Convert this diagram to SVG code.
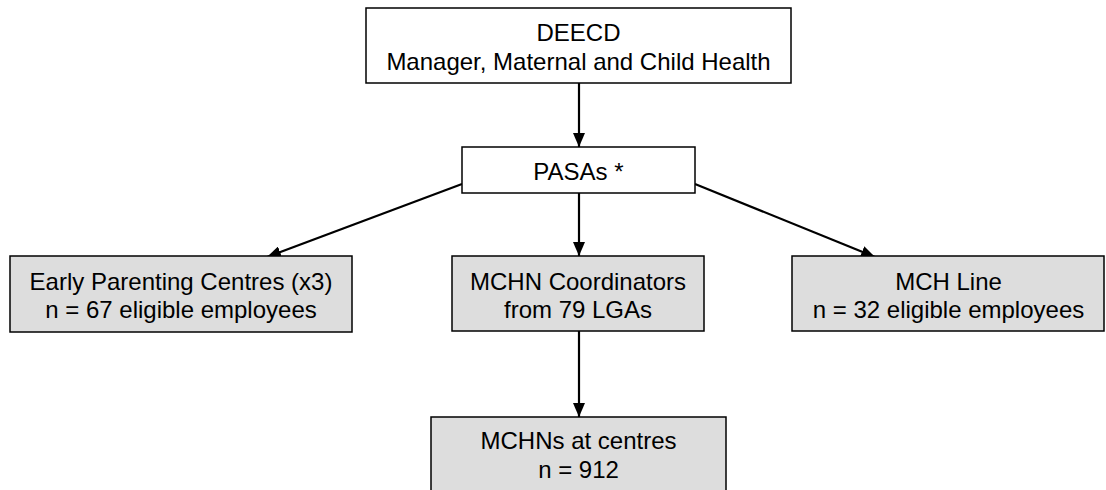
<svg xmlns="http://www.w3.org/2000/svg" width="1106" height="490" viewBox="0 0 1106 490">
<style>
.box{stroke:#000;stroke-width:1.5}
.w{fill:#fff}
.g{fill:#dddddd}
.t{font-family:"Liberation Sans",Arial,sans-serif;font-size:24px;fill:#000;text-anchor:middle}
.c{stroke:#000;stroke-width:2.2;fill:none;marker-end:url(#ah)}
</style>
<defs>
<marker id="ah" viewBox="0 0 14 12" refX="14" refY="6" markerWidth="14" markerHeight="12" markerUnits="userSpaceOnUse" orient="auto">
<path d="M0,0 L14,6 L0,12 Z" fill="#000"/>
</marker>
</defs>
<rect width="1106" height="490" fill="#fff"/>
<g id="connectors">
<line class="c" x1="579" y1="83" x2="579" y2="147"/>
<line class="c" x1="462" y1="184" x2="267" y2="257"/>
<line class="c" x1="695" y1="184" x2="875" y2="257"/>
<line class="c" x1="579" y1="193" x2="579" y2="256"/>
<line class="c" x1="579" y1="331" x2="579" y2="417"/>
</g>
<g id="deecd">
<rect class="box w" x="366" y="8" width="425" height="75"/>
<text class="t" x="578.5" y="41">DEECD</text>
<text class="t" x="578.5" y="70">Manager, Maternal and Child Health</text>
</g>
<g id="pasas">
<rect class="box w" x="462" y="147" width="233" height="46"/>
<text class="t" x="578.5" y="180">PASAs *</text>
</g>
<g id="epc">
<rect class="box g" x="10" y="256" width="342" height="76"/>
<text class="t" x="181" y="290">Early Parenting Centres (x3)</text>
<text class="t" x="181" y="318">n = 67 eligible employees</text>
</g>
<g id="mchn-coord">
<rect class="box g" x="452" y="256" width="252" height="75"/>
<text class="t" x="578" y="290">MCHN Coordinators</text>
<text class="t" x="578" y="318">from 79 LGAs</text>
</g>
<g id="mch-line">
<rect class="box g" x="792" y="256" width="312" height="75"/>
<text class="t" x="948.5" y="290">MCH Line</text>
<text class="t" x="948.5" y="318">n = 32 eligible employees</text>
</g>
<g id="mchns">
<rect class="box g" x="431" y="417" width="295" height="80"/>
<text class="t" x="578.5" y="449">MCHNs at centres</text>
<text class="t" x="578.5" y="478">n = 912</text>
</g>
</svg>
